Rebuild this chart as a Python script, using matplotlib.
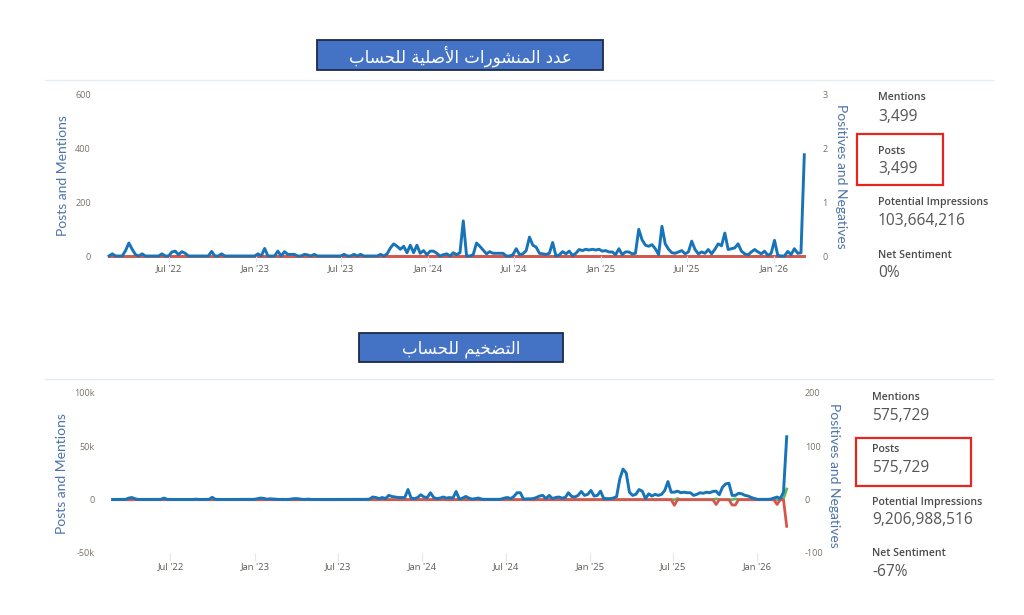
import matplotlib
matplotlib.use('Agg')
import matplotlib.pyplot as plt
from matplotlib.patches import Rectangle
from matplotlib.lines import Line2D
import pandas as pd

W, H = 1024, 615

# ---------------- data ----------------
start_date = '2022-02-25'
n_weeks = 211
dates = pd.date_range(start_date, periods=n_weeks, freq='7D')

tick_dates = ['2022-07-01', '2023-01-01', '2023-07-01', '2024-01-01',
              '2024-07-01', '2025-01-01', '2025-07-01', '2026-01-01']
tick_labels = ["Jul '22", "Jan '23", "Jul '23", "Jan '24",
               "Jul '24", "Jan '25", "Jul '25", "Jan '26"]

title_top = "عدد المنشورات الأصلية للحساب"
title_bottom = "التضخيم للحساب"

# top chart: posts and mentions (weekly)
top_mentions = [
    0, 8, 0, 0, 0, 20, 48, 25, 5, 0,
    8, 0, 0, 0, 0, 0, 8, 0, 0, 15,
    18, 5, 16, 10, 0, 0, 0, 0, 0, 0,
    0, 17, 0, 0, 8, 0, 0, 0, 0, 0,
    0, 0, 0, 0, 0, 8, 0, 28, 0, 0,
    0, 18, 0, 16, 6, 6, 6, 0, 0, 6,
    4, 0, 6, 0, 0, 0, 0, 0, 0, 0,
    0, 6, 0, 0, 6, 0, 6, 0, 0, 0,
    0, 0, 6, 0, 8, 30, 45, 36, 25, 36,
    12, 40, 12, 40, 10, 20, 5, 18, 18, 10,
    0, 5, 8, 0, 12, 5, 12, 130, 0, 0,
    5, 48, 36, 22, 8, 16, 10, 10, 10, 10,
    0, 0, 5, 27, 5, 8, 20, 70, 40, 33,
    10, 8, 6, 10, 50, 0, 4, 16, 8, 18,
    2, 10, 24, 20, 25, 22, 25, 22, 25, 18,
    20, 15, 15, 5, 27, 5, 15, 15, 8, 10,
    99, 60, 40, 36, 42, 27, 5, 110, 45, 25,
    12, 10, 15, 20, 8, 15, 55, 24, 8, 15,
    10, 24, 8, 25, 45, 38, 85, 24, 27, 30,
    45, 18, 8, 4, 15, 24, 15, 8, 18, 2,
    10, 58, 2, 0, 0, 17, 5, 27, 10, 12,
    375,
]
top_positives = [
    0, 0, 0, 0, 0, 0, 0, 0, 0, 0,  0, 0, 0, 0, 0, 0, 0, 0, 0, 0,
    0, 0, 0, 0, 0, 0, 0, 0, 0, 0,  0, 0, 0, 0, 0, 0, 0, 0, 0, 0,
    0, 0, 0, 0, 0, 0, 0, 0, 0, 0,  0, 0, 0, 0, 0, 0, 0, 0, 0, 0,
    0, 0, 0, 0, 0, 0, 0, 0, 0, 0,  0, 0, 0, 0, 0, 0, 0, 0, 0, 0,
    0, 0, 0, 0, 0, 0, 0, 0, 0, 0,  0, 0, 0, 0, 0, 0, 0, 0, 0, 0,
    0, 0, 0, 0, 0, 0, 0, 0, 0, 0,  0, 0, 0, 0, 0, 0, 0, 0, 0, 0,
    0, 0, 0, 0, 0, 0, 0, 0, 0, 0,  0, 0, 0, 0, 0, 0, 0, 0, 0, 0,
    0, 0, 0, 0, 0, 0, 0, 0, 0, 0,  0, 0, 0, 0, 0, 0, 0, 0, 0, 0,
    0, 0, 0, 0, 0, 0, 0, 0, 0, 0,  0, 0, 0, 0, 0, 0, 0, 0, 0, 0,
    0, 0, 0, 0, 0, 0, 0, 0, 0, 0,  0, 0, 0, 0, 0, 0, 0, 0, 0, 0,
    0, 0, 0, 0, 0, 0, 0, 0, 0, 0,  0,
]
top_negatives = [
    0, 0, 0, 0, 0, 0, 0, 0, 0, 0,  0, 0, 0, 0, 0, 0, 0, 0, 0, 0,
    0, 0, 0, 0, 0, 0, 0, 0, 0, 0,  0, 0, 0, 0, 0, 0, 0, 0, 0, 0,
    0, 0, 0, 0, 0, 0, 0, 0, 0, 0,  0, 0, 0, 0, 0, 0, 0, 0, 0, 0,
    0, 0, 0, 0, 0, 0, 0, 0, 0, 0,  0, 0, 0, 0, 0, 0, 0, 0, 0, 0,
    0, 0, 0, 0, 0, 0, 0, 0, 0, 0,  0, 0, 0, 0, 0, 0, 0, 0, 0, 0,
    0, 0, 0, 0, 0, 0, 0, 0, 0, 0,  0, 0, 0, 0, 0, 0, 0, 0, 0, 0,
    0, 0, 0, 0, 0, 0, 0, 0, 0, 0,  0, 0, 0, 0, 0, 0, 0, 0, 0, 0,
    0, 0, 0, 0, 0, 0, 0, 0, 0, 0,  0, 0, 0, 0, 0, 0, 0, 0, 0, 0,
    0, 0, 0, 0, 0, 0, 0, 0, 0, 0,  0, 0, 0, 0, 0, 0, 0, 0, 0, 0,
    0, 0, 0, 0, 0, 0, 0, 0, 0, 0,  0, 0, 0, 0, 0, 0, 0, 0, 0, 0,
    0, 0, 0, 0, 0, 0, 0, 0, 0, 0,  0,
]

# bottom chart: posts and mentions (weekly)
bottom_mentions = [
    200, 200, 200, 200, 300, 1500, 2000, 800, 200, 200,
    200, 200, 200, 200, 200, 300, 1500, 300, 200, 200,
    200, 200, 300, 200, 200, 200, 500, 200, 200, 200,
    300, 2200, 300, 200, 200, 200, 200, 200, 200, 200,
    200, 200, 200, 200, 300, 800, 1500, 1200, 500, 800,
    600, 300, 200, 300, 200, 300, 800, 1000, 800, 300,
    300, 500, 200, 200, 200, 200, 200, 200, 200, 200,
    200, 200, 200, 200, 200, 200, 200, 200, 200, 300,
    500, 2500, 2000, 1000, 2000, 1000, 4000, 3000, 2500, 2000,
    2000, 2000, 9500, 1500, 1000, 2000, 4600, 2500, 2000, 6500,
    2000, 1000, 1500, 2500, 1500, 2000, 1500, 7700, 500, 1500,
    3000, 1500, 500, 1000, 1500, 500, 300, 300, 300, 300,
    300, 500, 1500, 2000, 1000, 3000, 6500, 6500, 500, 800,
    800, 1000, 2000, 3400, 4000, 1000, 4000, 1000, 2000, 2500,
    1500, 2000, 6500, 3000, 2500, 4000, 7700, 4000, 5000, 8600,
    3400, 4000, 8000, 1000, 1000, 1000, 1500, 3000, 19500, 28700,
    25000, 7000, 4000, 5000, 9500, 8000, 1000, 5500, 3400, 5000,
    4000, 5000, 8600, 17000, 7000, 7000, 8000, 6500, 7000, 6500,
    6500, 4000, 5000, 6500, 6000, 7000, 6500, 7700, 8000, 4600,
    11700, 14800, 15400, 4000, 4000, 6000, 5500, 4000, 3400, 2000,
    1000, 300, 300, 300, 300, 500, 1500, 2500, 1000, 7000,
    59000,
]
bottom_positives = [
    0, 0, 0, 0, 0, 0, 0, 0, 0, 0,  0, 0, 0, 0, 0, 0, 0, 0, 0, 0,
    0, 0, 0, 0, 0, 0, 0, 0, 0, 0,  0, 0, 0, 0, 0, 0, 0, 0, 0, 0,
    0, 0, 0, 0, 0, 0, 0, 0, 0, 0,  0, 0, 0, 0, 0, 0, 0, 0, 0, 0,
    0, 0, 0, 0, 0, 0, 0, 0, 0, 0,  0, 0, 0, 0, 0, 0, 0, 0, 0, 0,
    0, 0, 0, 0, 0, 0, 0, 0, 0, 0,  0, 0, 0, 0, 0, 0, 0, 0, 0, 0,
    0, 0, 0, 0, 0, 0, 0, 0, 0, 0,  0, 0, 0, 0, 0, 0, 0, 0, 0, 0,
    0, 0, 0, 0, 0, 0, 0, 0, 0, 0,  0, 0, 0, 0, 0, 0, 0, 0, 0, 0,
    0, 0, 0, 0, 0, 0, 0, 0, 0, 0,  0, 0, 0, 0, 0, 0, 0, 0, 0, 0,
    0, 0, 0, 0, 0, 0, 0, 0, 0, 0,  0, 0, 0, 0, 0, 0, 2, 0, 0, 0,
    0, 0, 0, 0, 0, 0, 0, 0, 1.5, 0,  0, 0, 0, 0, 1.5, 0, 0, 0, 0, 0,
    0, 0, 0, 0, 0, 0, 0, 0, 0, 2,  20,
]
bottom_negatives = [
    0, 0, 0, 0, 0, 0, 0, 0, 0, 0,  0, 0, 0, 0, 0, 0, 0, 0, 0, 0,
    0, 0, 0, 0, 0, 0, 0, 0, 0, 0,  0, 0, 0, 0, 0, 0, 0, 0, 0, 0,
    0, 0, 0, 0, 0, 0, 0, 0, 0, 0,  0, 0, 0, 0, 0, 0, 0, 0, 0, 0,
    0, 0, 0, 0, 0, 0, 0, 0, 0, 0,  0, 0, 0, 0, 0, 0, 0, 0, 0, 0,
    0, 0, 0, 0, 0, 0, 0, 0, 0, 0,  0, 0, 0, 0, 0, 0, 0, 0, 0, 0,
    0, 0, 0, 0, 0, 0, 0, 0, 0, 0,  0, 0, 0, 0, 0, 0, 0, 0, 0, 0,
    0, 0, 0, 0, 0, 0, 0, 0, 0, 0,  0, 0, 0, 0, 0, 0, 0, 0, 0, 0,
    0, 0, 0, 0, 0, 0, 0, 0, 0, 0,  0, 0, 0, 0, 0, 0, 0, 0, 0, 0,
    0, 0, 0, 0, 0, 0, 0, 0, 0, 0,  0, 0, 0, 0, 0, -10.5, 0, 0, 0, 0,
    0, 0, 0, 0, 0, 0, 0, 0, -9, 0,  0, 0, 0, -10, -10, 0, 0, 0, 0, 0,
    0, 0, 0, 0, 0, 0, 0, -9, 0, 0,  -50,
]

top_left_ticks = [0, 200, 400, 600]
top_left_labels = ['0', '200', '400', '600']
top_right_ticks = [0, 1, 2, 3]
top_right_labels = ['0', '1', '2', '3']
bottom_left_ticks = [-50000, 0, 50000, 100000]
bottom_left_labels = ['-50k', '0', '50k', '100k']
bottom_right_ticks = [-100, 0, 100, 200]
bottom_right_labels = ['-100', '0', '100', '200']

stat_names = ['Mentions', 'Posts', 'Potential Impressions', 'Net Sentiment']
top_stat_values = ['3,499', '3,499', '103,664,216', '0%']
bottom_stat_values = ['575,729', '575,729', '9,206,988,516', '-67%']

# ---------------- simple Arabic shaping (presentation forms) ----------------
FORMS = {  # isolated, final, initial, medial
    '\u0627': ('\uFE8D', '\uFE8E', None, None),
    '\u0623': ('\uFE83', '\uFE84', None, None),
    '\u0628': ('\uFE8F', '\uFE90', '\uFE91', '\uFE92'),
    '\u0629': ('\uFE93', '\uFE94', None, None),
    '\u062A': ('\uFE95', '\uFE96', '\uFE97', '\uFE98'),
    '\u062D': ('\uFEA1', '\uFEA2', '\uFEA3', '\uFEA4'),
    '\u062E': ('\uFEA5', '\uFEA6', '\uFEA7', '\uFEA8'),
    '\u062F': ('\uFEA9', '\uFEAA', None, None),
    '\u0631': ('\uFEAD', '\uFEAE', None, None),
    '\u0633': ('\uFEB1', '\uFEB2', '\uFEB3', '\uFEB4'),
    '\u0634': ('\uFEB5', '\uFEB6', '\uFEB7', '\uFEB8'),
    '\u0635': ('\uFEB9', '\uFEBA', '\uFEBB', '\uFEBC'),
    '\u0636': ('\uFEBD', '\uFEBE', '\uFEBF', '\uFEC0'),
    '\u0639': ('\uFEC9', '\uFECA', '\uFECB', '\uFECC'),
    '\u0644': ('\uFEDD', '\uFEDE', '\uFEDF', '\uFEE0'),
    '\u0645': ('\uFEE1', '\uFEE2', '\uFEE3', '\uFEE4'),
    '\u0646': ('\uFEE5', '\uFEE6', '\uFEE7', '\uFEE8'),
    '\u0648': ('\uFEED', '\uFEEE', None, None),
    '\u064A': ('\uFEF1', '\uFEF2', '\uFEF3', '\uFEF4'),
}
LAM_ALEF = {'\u0627': ('\uFEFB', '\uFEFC'), '\u0623': ('\uFEF7', '\uFEF8'),
            '\u0625': ('\uFEF9', '\uFEFA'), '\u0622': ('\uFEF5', '\uFEF6')}


def shape_arabic(text):
    out_words = []
    for word in text.split(' '):
        toks = []
        i = 0
        while i < len(word):
            c = word[i]
            if c == '\u0644' and i + 1 < len(word) and word[i + 1] in LAM_ALEF:
                toks.append(('LA', word[i + 1]))
                i += 2
            else:
                toks.append(('C', c))
                i += 1
        res = []
        for j, (kind, c) in enumerate(toks):
            prev_joins = False
            if j > 0:
                pk, pc = toks[j - 1]
                prev_joins = pk == 'C' and pc in FORMS and FORMS[pc][2] is not None
            if kind == 'LA':
                res.append(LAM_ALEF[c][1] if prev_joins else LAM_ALEF[c][0])
                continue
            if c not in FORMS:
                res.append(c)
                continue
            f = FORMS[c]
            next_joins = f[2] is not None and j + 1 < len(toks)
            if prev_joins and next_joins:
                res.append(f[3])
            elif prev_joins:
                res.append(f[1])
            elif next_joins:
                res.append(f[2])
            else:
                res.append(f[0])
        out_words.append(''.join(res))
    return ' '.join(out_words)[::-1]


# ---------------- drawing ----------------
BLUE = '#1874b8'
RED = '#d9534f'
GREEN = '#5cb85c'
AXLABEL = '#4d73a8'
TICKC = '#7a7166'


def fx(x):
    return x / W


def fy(y):
    return 1 - y / H


fig = plt.figure(figsize=(W / 100, H / 100), dpi=100)
fig.patch.set_facecolor('white')


def panel(box, mentions, pos, neg, lt, ltl, rt, rtl, tick_len, xpad):
    left, top, right, bottom = box
    ax = fig.add_axes([fx(left), fy(bottom), (right - left) / W, (bottom - top) / H])
    ax2 = ax.twinx()
    ax.set_zorder(ax2.get_zorder() + 1)
    ax.patch.set_visible(False)
    ax2.plot(dates, pos, color=GREEN, lw=2.0, clip_on=False, solid_joinstyle='round')
    ax2.plot(dates, neg, color=RED, lw=2.0, clip_on=False, solid_joinstyle='round')
    ax.plot(dates, mentions, color=BLUE, lw=2.1, clip_on=False, solid_joinstyle='round')
    ax.set_xlim(dates[0], dates[-1])
    ax.set_ylim(lt[0], lt[-1])
    ax2.set_ylim(rt[0], rt[-1])
    ax.set_yticks(lt)
    ax.set_yticklabels(ltl)
    ax2.set_yticks(rt)
    ax2.set_yticklabels(rtl)
    ax.set_xticks(pd.to_datetime(tick_dates))
    ax.set_xticklabels(tick_labels)
    for a in (ax, ax2):
        for s in a.spines.values():
            s.set_visible(False)
    ax.tick_params(axis='y', length=0, pad=13, labelsize=6.5, labelcolor=TICKC)
    ax2.tick_params(axis='y', length=0, pad=13, labelsize=6.5, labelcolor=TICKC)
    ax.tick_params(axis='x', length=tick_len, width=0.8, color='#dfe7f0',
                   direction='out', pad=xpad, labelsize=6.8, labelcolor='#5f5a55')
    for lab in ax.get_yticklabels() + ax2.get_yticklabels() + ax.get_xticklabels():
        lab.set_family('Open Sans')
    return ax, ax2


panel((109, 94, 804.3, 256), top_mentions, top_positives, top_negatives,
      top_left_ticks, top_left_labels, top_right_ticks, top_right_labels, 4.5, 1.5)
panel((112.7, 393, 786.7, 553), bottom_mentions, bottom_positives, bottom_negatives,
      bottom_left_ticks, bottom_left_labels, bottom_right_ticks, bottom_right_labels, 6.0, 0.5)

# axis titles
fig.text(fx(63), fy(176), 'Posts and Mentions', rotation=90, ha='center', va='center',
         color=AXLABEL, fontsize=10, family='Lato')
fig.text(fx(841), fy(176), 'Positives and Negatives', rotation=270, ha='center', va='center',
         color=AXLABEL, fontsize=10, family='Lato')
fig.text(fx(62), fy(474), 'Posts and Mentions', rotation=90, ha='center', va='center',
         color=AXLABEL, fontsize=10, family='Lato')
fig.text(fx(834), fy(475), 'Positives and Negatives', rotation=270, ha='center', va='center',
         color=AXLABEL, fontsize=10, family='Lato')

# separator lines
for yy in (80, 379):
    fig.add_artist(Line2D([fx(45), fx(993)], [fy(yy), fy(yy)], color='#e2edf1', lw=1.0))

# title boxes
for (x0, y0, x1, y1, txt) in [(317, 40, 603, 70, title_top), (359, 333, 563, 362, title_bottom)]:
    fig.add_artist(Rectangle((fx(x0), fy(y1)), (x1 - x0) / W, (y1 - y0) / H,
                             facecolor='#4472c4', edgecolor='#1e2a48', lw=1.3,
                             transform=fig.transFigure))
    fig.text(fx((x0 + x1) / 2), fy((y0 + y1) / 2 + 1), shape_arabic(txt), ha='center',
             va='center', color='white', fontsize=12, family='DejaVu Sans')

# stats panels
def stats(x, ys, values):
    for (yl, yv), name, val in zip(ys, stat_names, values):
        fig.text(fx(x), fy(yl), name, ha='left', va='center', fontsize=7.6,
                 fontweight='semibold', color='#4a4a4a', family='Open Sans')
        fig.text(fx(x), fy(yv), val, ha='left', va='center', fontsize=11.2,
                 color='#555555', family='Open Sans')


stats(878, [(98, 117), (151, 169), (203, 221), (256, 273)], top_stat_values)
stats(872, [(397, 416), (450, 468), (502, 520), (553, 572)], bottom_stat_values)

# red highlight boxes
for (x0, y0, x1, y1) in [(857, 134, 943, 185), (856, 438, 971, 486)]:
    fig.add_artist(Rectangle((fx(x0), fy(y1)), (x1 - x0) / W, (y1 - y0) / H,
                             facecolor='none', edgecolor='#e8251c', lw=1.6,
                             transform=fig.transFigure))

fig.savefig('out.png', dpi=100, facecolor='white')
